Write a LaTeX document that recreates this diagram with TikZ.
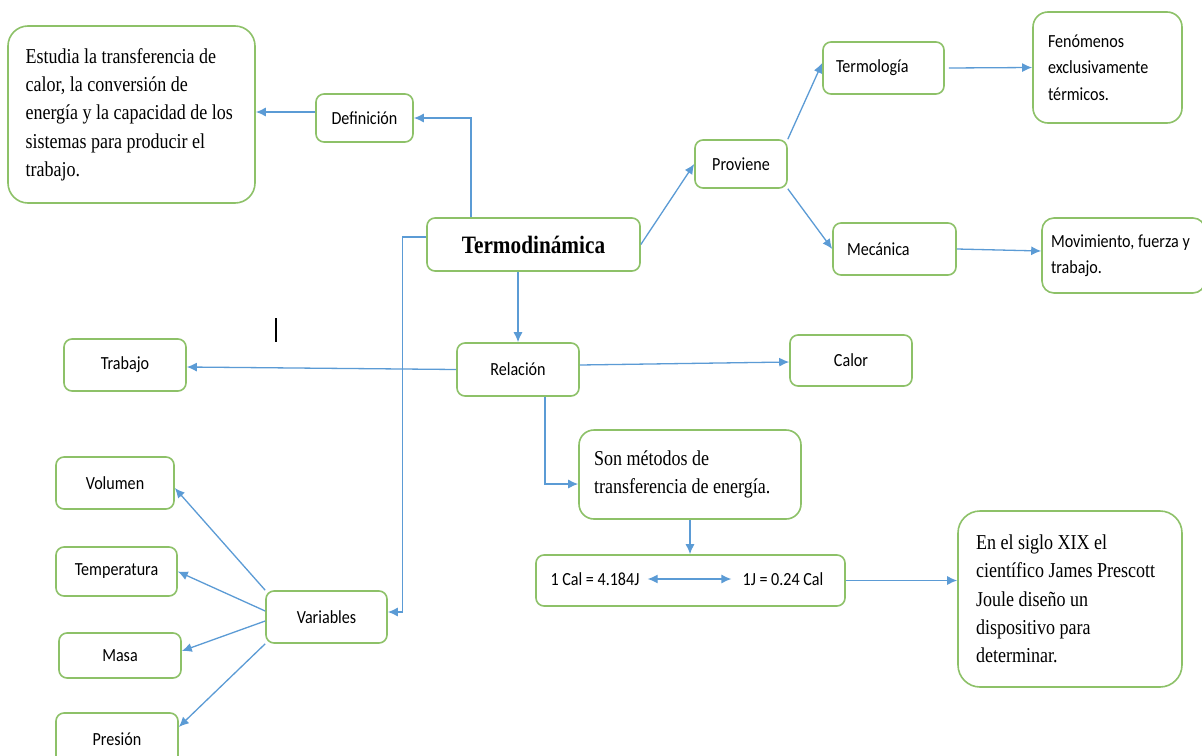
\documentclass[tikz,border=0pt]{standalone}
\usepackage{fontspec}
\setmainfont[FakeStretch=0.87]{Carlito}
\newfontfamily\tnr[FakeStretch=0.85]{Liberation Serif}
\usetikzlibrary{arrows.meta}
\definecolor{boxgreen}{RGB}{141,193,104}
\definecolor{arrblue}{RGB}{91,155,213}
\newcommand\calfont{\fontsize{18.5}{26.5}\selectfont}
\newcommand\tnrfont{\tnr\fontsize{21.2}{28.3}\selectfont}
\tikzset{
  box/.style={draw=boxgreen, line width=1.6pt, fill=white, rounded corners=8pt, inner sep=0pt, font=\calfont, align=center},
  lbox/.style={box, align=flush left},
  txt/.style={inner sep=0pt, font=\calfont},
  conn/.style={draw=arrblue, line width=1.3pt, -{Latex[length=10pt,width=9pt]}},
  dconn/.style={draw=arrblue, line width=1.3pt, {Latex[length=10pt,width=9pt]}-{Latex[length=10pt,width=9pt]}},
}
\begin{document}
\begin{tikzpicture}[x=1pt,y=-1pt]
\fill[white] (0,0) rectangle (1202,755);
\useasboundingbox (0,0) rectangle (1202,755);

% boxes
\node[lbox, rounded corners=20pt, font=\tnrfont, text width=212pt, inner xsep=17.5pt, minimum height=177pt] (estudia) at (131.5,114.5)
  {Estudia la transferencia de\\calor, la conversión de\\energía y la capacidad de los\\sistemas para producir el\\trabajo.};
\node[box, minimum width=97pt, minimum height=48pt] (def) at (364.5,118) {Definición};
\node[box, font=\tnr\bfseries\fontsize{25}{30}\selectfont, minimum width=213pt, minimum height=53pt] (termo) at (533.5,244.5) {Termodinámica};
\node[box, minimum width=92pt, minimum height=48pt] (prov) at (741,164) {Proviene};
\node[lbox, text width=95pt, inner xsep=13pt, minimum height=52pt] (termol) at (883.5,68) {Termología};
\node[lbox, rounded corners=15pt, text width=119pt, inner xsep=15pt, minimum height=111pt] (fenom) at (1107.5,67.5)
  {Fenómenos\\exclusivamente\\térmicos.};
\node[lbox, text width=95pt, inner xsep=14pt, minimum height=52pt] (mecan) at (894.5,249) {Mecánica};
\node[lbox, rounded corners=12pt, text width=145pt, inner xsep=9pt, minimum height=75pt] (movim) at (1123.5,255.5)
  {Movimiento, fuerza y\\trabajo.};
\node[box, minimum width=122pt, minimum height=52pt] (trabajo) at (125,365) {Trabajo};
\node[box, minimum width=122pt, minimum height=53pt] (rel) at (518,369.5) {Relación};
\node[box, minimum width=122pt, minimum height=51pt] (calor) at (851,360.5) {Calor};
\node[lbox, rounded corners=15pt, font=\tnrfont, text width=192pt, inner xsep=15pt, minimum height=89pt] (son) at (690,474.5)
  {Son métodos de\\transferencia de energía.};
\node[box, minimum width=309pt, minimum height=51pt] (conv) at (690.5,580.5) {};
\node[txt] (cal1) at (595,579) {1 Cal = 4.184J};
\node[txt] (cal2) at (783,579) {1J = 0.24 Cal};
\node[lbox, rounded corners=22pt, font=\tnrfont, text width=188pt, inner xsep=18pt, minimum height=176pt] (joule) at (1070,599)
  {En el siglo XIX el\\científico James Prescott\\Joule diseño un\\dispositivo para\\determinar.};
\node[box, minimum width=121pt, minimum height=52pt] (var) at (326.5,617) {Variables};
\node[box, minimum width=118pt, minimum height=52pt] (vol) at (115,483) {Volumen};
\node[box, minimum width=121pt, minimum height=49pt] (temp) at (116.5,571.5) {Temperatura};
\node[box, minimum width=122pt, minimum height=45pt] (masa) at (120,655.5) {Masa};
\node[box, minimum width=122pt, minimum height=52pt] (pres) at (117,739) {Presión};

% connectors
\draw[conn] ([xshift=-62.5pt]termo.north) |- (def.east);
\draw[conn] ([yshift=6pt]def.west) coordinate (d1) -- (d1 -| estudia.east);
\draw[conn] (termo.east) -- (prov.west);
\draw[conn] (prov.north east) -- ([yshift=5pt]termol.west);
\draw[conn] ([xshift=4pt]termol.east) -- (fenom.west);
\draw[conn] (prov.south east) -- (mecan.west);
\draw[conn] (mecan.east) -- ([yshift=4.5pt]movim.west);
\draw[conn] (rel.north |- termo.south) -- (rel.north);
\draw[conn] (rel.west) -- ([yshift=-2pt]trabajo.east);
\draw[conn] ([yshift=4.5pt]rel.east) -- ([yshift=-1.5pt]calor.west);
\draw[conn] ([xshift=27pt]rel.south) |- ([yshift=-9.5pt]son.west);
\draw[conn] (son.south) -- (son.south |- conv.north);
\draw[dconn] ([xshift=8pt]cal1.east) -- ([xshift=-11pt]cal2.west);
\draw[conn] (conv.east) coordinate (c1) -- (c1 -| joule.west);
\draw[conn] ([yshift=7.5pt]termo.west) -- ++(-24,0) |- ([yshift=5pt]var.east);
\draw[conn] (var.north west) -- ([yshift=-5pt]vol.east);
\draw[conn] ([yshift=6pt]var.west) -- (temp.east);
\draw[conn] ([yshift=-4pt]var.west) -- ([yshift=4.5pt]masa.east);
\draw[conn] (var.south west) -- ([yshift=12pt]pres.east);

% text cursor mark
\draw[black, line width=1.2pt] (276,318) -- (276,342);
\end{tikzpicture}
\end{document}
